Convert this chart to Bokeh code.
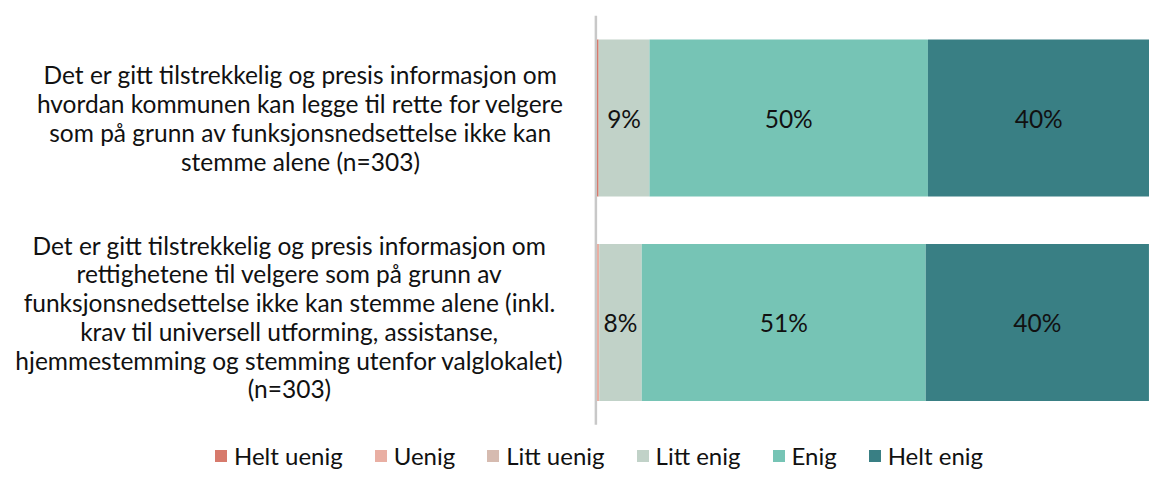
from bokeh.plotting import figure
from bokeh.models import ColumnDataSource, Range1d
from bokeh.core.properties import value
from bokeh.embed import file_html
from bokeh.resources import INLINE

# ---- data ----
categories = [
    "Det er gitt tilstrekkelig og presis informasjon om\nhvordan kommunen kan legge til rette for velgere\nsom på grunn av funksjonsnedsettelse ikke kan\nstemme alene (n=303)",
    "Det er gitt tilstrekkelig og presis informasjon om\nrettighetene til velgere som på grunn av\nfunksjonsnedsettelse ikke kan stemme alene (inkl.\nkrav til universell utforming, assistanse,\nhjemmestemming og stemming utenfor valglokalet)\n(n=303)",
]
series_names = ["Helt uenig", "Uenig", "Litt uenig", "Litt enig", "Enig", "Helt enig"]
helt_uenig = [0.3, 0.0]
uenig = [0.0, 0.4]
litt_uenig = [0.0, 0.0]
litt_enig = [9.2, 7.7]
enig = [50.4, 51.4]
helt_enig = [40.1, 40.4]

colors = ["#D77A6C", "#E9AFA3", "#D6BBB0", "#C1D2C8", "#76C4B5", "#397F84"]

FONT = "Lato"
TXT = "#111111"
FS = "24.5px"

series_values = [helt_uenig, uenig, litt_uenig, litt_enig, enig, helt_enig]
keys = ["s%d" % i for i in range(len(series_names))]
n = len(categories)
ypos = list(range(n))

data = {"y": ypos}
for k, v in zip(keys, series_values):
    data[k] = v
source = ColumnDataSource(data)

W, H = 1149, 473
p = figure(width=W, height=H, output_backend="svg", toolbar_location=None,
           x_range=Range1d(-107.96, 100.0), y_range=Range1d(1.7384, -0.5746),
           x_axis_type=None, y_axis_type=None, min_border=0)
p.outline_line_color = None
p.xgrid.visible = False
p.ygrid.visible = False
p.background_fill_color = "white"

# vertical axis line
p.segment(x0=[-0.2], y0=[-0.5], x1=[-0.2], y1=[n - 0.5], line_color="#C8C8C8", line_width=2.5)

p.hbar_stack(keys, y="y", height=0.768, color=colors, source=source,
             legend_label=series_names, line_width=0)

# data labels
lx, ly, lt = [], [], []
for i in range(n):
    cum = 0.0
    for v in series_values:
        val = v[i]
        if val >= 5:
            lx.append(cum + val / 2)
            ly.append(ypos[i])
            lt.append("%d%%" % round(val))
        cum += val
p.text(x=lx, y=ly, text=lt, text_align="center", text_baseline="middle",
       text_font=value(FONT), text_font_size=FS, text_color=TXT)

# category labels
cat_x = [-53.67, -55.66]
cat_y = [ypos[0], ypos[1] - 0.027]
p.text(x=cat_x, y=cat_y, text=categories, text_align="center", text_baseline="middle",
       text_font=value(FONT), text_font_size=FS, text_color=TXT, text_line_height=0.99)

lg = p.legend[0]
lg.orientation = "horizontal"
lg.location = (213, 3)
lg.border_line_color = None
lg.background_fill_alpha = 0
lg.padding = 0
lg.margin = 0
lg.spacing = 30
lg.glyph_width = 15
lg.glyph_height = 15
lg.label_standoff = 6
lg.label_text_font = FONT
lg.label_text_font_size = "24px"
lg.label_text_color = TXT

open("out.html", "w").write(file_html(p, INLINE))
